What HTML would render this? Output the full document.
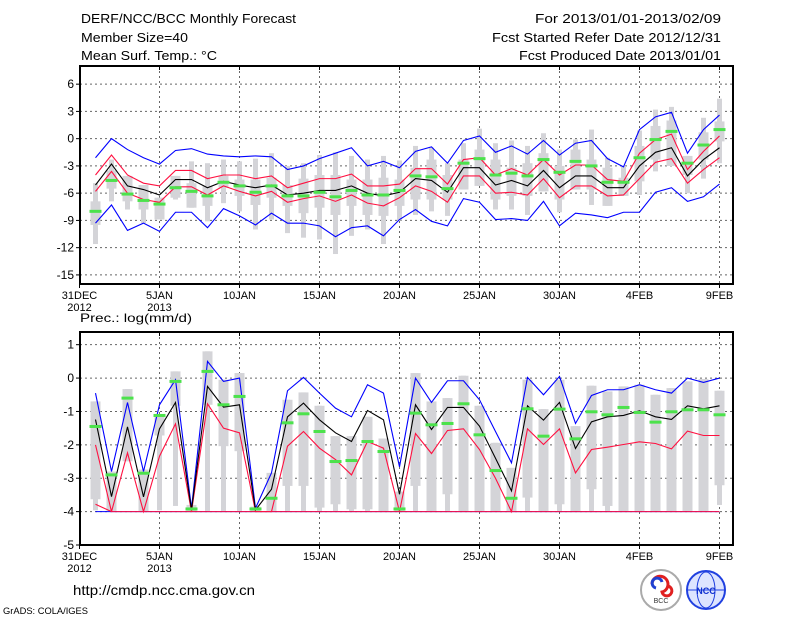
<!DOCTYPE html>
<html><head><meta charset="utf-8"><style>
html,body{margin:0;padding:0;background:#fff;}
svg{display:block;font-family:"Liberation Sans",sans-serif;}
</style></head><body>
<svg id="chart" width="800" height="618" viewBox="0 0 800 618" xmlns="http://www.w3.org/2000/svg">
<rect width="800" height="618" fill="#fff"/>
<g font-size="13" fill="#000">
<text x="81" y="23" textLength="215" lengthAdjust="spacingAndGlyphs">DERF/NCC/BCC Monthly Forecast</text>
<text x="81" y="42" textLength="107" lengthAdjust="spacingAndGlyphs">Member Size=40</text>
<text x="81" y="60" textLength="136" lengthAdjust="spacingAndGlyphs">Mean Surf. Temp.: °C</text>
<text x="721" y="23" text-anchor="end" textLength="186" lengthAdjust="spacingAndGlyphs">For 2013/01/01-2013/02/09</text>
<text x="721" y="42" text-anchor="end" textLength="229" lengthAdjust="spacingAndGlyphs">Fcst Started Refer Date 2012/12/31</text>
<text x="721" y="60" text-anchor="end" textLength="202" lengthAdjust="spacingAndGlyphs">Fcst Produced Date 2013/01/01</text>
</g>
<g id="top"></g>
<g id="bot"></g>
<text x="80" y="322" font-size="12" textLength="112" lengthAdjust="spacingAndGlyphs">Prec.: log(mm/d)</text>
<text x="73" y="595" font-size="14" textLength="182" lengthAdjust="spacingAndGlyphs">http://cmdp.ncc.cma.gov.cn</text>
<text x="3" y="614" font-size="9" textLength="85" lengthAdjust="spacingAndGlyphs">GrADS: COLA/IGES</text>
<g>
<circle cx="661" cy="590" r="20" fill="#fff" stroke="#aaa" stroke-width="2"/>
<path d="M652,584 a8,8 0 1 1 10,8 a5,5 0 1 0 6,-6" fill="none" stroke="#e02020" stroke-width="3"/>
<path d="M656,588 a5,5 0 1 1 6,-6" fill="none" stroke="#2040d0" stroke-width="3"/>
<text x="661" y="603" font-size="7" text-anchor="middle" fill="#333">BCC</text>
</g>
<g>
<circle cx="706" cy="590" r="19" fill="#dde4ff" stroke="#2040e0" stroke-width="2"/>
<ellipse cx="706" cy="590" rx="9" ry="18" fill="none" stroke="#2040e0"/>
<line x1="688" y1="590" x2="724" y2="590" stroke="#2040e0"/>
<text x="706" y="594" font-size="9" font-weight="bold" text-anchor="middle" fill="#1030d0">NCC</text>
</g>
</svg>
<script>
// ---- temperature data (days 1..40 = Jan 1 .. Feb 9) ----
const tBlueHi=[-2.1,0,-1.2,-2.1,-2.8,-1.3,-1.1,-1.7,-1.9,-2.0,-1.9,-2.0,-3.4,-3.0,-2.2,-1.6,-1.0,-3.0,-2.5,-3.2,-1.4,-0.9,-2.7,-0.2,0.3,-1.5,-0.8,-1.7,-0.2,-1.8,-0.5,-0.2,-2.2,-3.1,1.0,2.4,2.9,-1.6,1.0,2.6];
const tRedHi=[-4.0,-1.8,-4.0,-4.9,-5.2,-3.5,-3.5,-4.4,-4.0,-4.0,-4.4,-4.1,-5.4,-4.9,-4.4,-4.4,-3.9,-5.2,-5.2,-5.0,-3.3,-3.3,-5.0,-2.3,-2.1,-4.0,-3.3,-4.0,-2.3,-4.0,-2.9,-2.9,-4.5,-4.7,-1.6,-0.1,0.5,-3.4,-1.4,0.3];
const tMean=[-5.1,-2.8,-5.2,-5.6,-6.2,-4.5,-4.5,-5.4,-4.7,-5.1,-5.4,-5.1,-6.2,-6.0,-5.7,-5.7,-5.2,-6.0,-6.3,-5.9,-4.4,-4.6,-5.9,-3.2,-3.2,-5.1,-4.6,-5.2,-3.5,-5.4,-4.1,-4.1,-5.4,-5.4,-3.0,-1.5,-1.0,-4.1,-2.3,-1.0];
const tRedLo=[-5.8,-3.6,-6.0,-6.7,-7.0,-5.3,-5.3,-6.2,-5.2,-5.8,-6.3,-5.8,-7.0,-6.6,-6.3,-6.9,-6.2,-7.1,-7.4,-6.5,-5.2,-5.8,-7.0,-4.1,-4.1,-6.0,-5.9,-6.2,-4.4,-6.5,-5.2,-5.2,-6.3,-6.2,-4.4,-2.6,-2.2,-4.9,-3.4,-2.1];
const tBlueLo=[-9.3,-7.3,-10.1,-9.3,-10.2,-8.1,-8.1,-9.8,-7.7,-8.5,-9.5,-8.2,-9.3,-9.3,-9.6,-10.8,-9.8,-9.6,-10.7,-8.9,-7.8,-9.1,-9.6,-6.6,-7.0,-8.9,-8.8,-9.0,-6.9,-9.6,-8.2,-8.4,-8.7,-8.1,-8.1,-5.9,-5.4,-6.9,-6.4,-5.0];
const tObs=[-8.0,-4.6,-6.1,-6.8,-7.2,-5.4,-5.8,-6.3,-4.8,-5.2,-5.9,-5.2,-6.3,-6.3,-5.9,-6.4,-5.7,-6.2,-6.2,-5.7,-4.1,-4.2,-5.5,-2.7,-2.2,-4.0,-3.8,-4.1,-2.3,-3.7,-2.5,-3.0,-4.8,-4.8,-2.1,-0.1,0.8,-2.7,-0.7,1.0];
const tBoxHi=[-6.9,-3.5,-4.1,-5.1,-6.5,-4.1,-4.9,-5.2,-4.1,-4.5,-4.5,-4.3,-5.1,-4.4,-4.0,-4.0,-4.5,-4.5,-4.3,-4.5,-3.2,-2.3,-4.0,-2.3,-1.2,-2.3,-3.2,-2.7,-1.6,-3.0,-1.2,-2.3,-3.2,-4.3,-0.8,1.4,2.0,-1.9,0.7,1.9];
const tBoxLo=[-9.5,-5.5,-6.9,-7.8,-8.9,-6.5,-7.6,-7.4,-5.4,-6.3,-7.3,-6.5,-7.4,-8.2,-7.6,-8.4,-7.4,-8.4,-8.5,-7.4,-6.7,-6.7,-6.7,-5.6,-5.2,-6.7,-6.3,-6.3,-5.8,-6.7,-5.6,-5.6,-7.4,-6.3,-4.7,-2.3,-3.0,-4.0,-2.3,-0.3];
const tWhHi=[-4.9,-2.3,-4.1,-5.1,-6.5,-4.1,-2.5,-2.7,-2.3,-2.5,-2.2,-1.6,-3.0,-2.7,-1.8,-1.5,-1.9,-2.3,-1.9,-2.4,-0.8,-1.0,-2.7,-0.5,1.1,-0.5,-0.2,-0.8,0.6,-1.2,-0.1,1.0,-2.1,-3.0,0.9,3.2,3.5,-1.9,2.3,4.4];
const tWhLo=[-11.6,-6.9,-7.8,-9.3,-8.9,-6.7,-7.6,-9.1,-7.1,-8.0,-10.0,-8.9,-10.4,-10.9,-11.1,-12.7,-10.7,-10.0,-11.6,-9.0,-8.4,-8.0,-8.5,-5.6,-5.2,-7.8,-7.8,-8.4,-5.8,-8.1,-5.6,-7.3,-7.4,-6.3,-6.2,-3.6,-3.0,-6.0,-4.4,-2.7];
const tTicks=[6,3,0,-3,-6,-9,-12,-15];
// ---- precipitation data ----
const bBlueHi=[-0.45,-2.8,-0.73,-2.8,-0.8,-0.05,-3.9,0.5,-0.1,0,-3.9,-2.84,-0.38,0.02,-0.45,-0.9,-1.16,-0.2,-0.45,-2.66,0,-0.73,-0.08,-0.08,-0.65,-1.6,-2.54,0.02,-0.5,0.05,-1.36,-0.52,-0.35,-0.35,-0.2,-0.35,-0.45,0,-0.13,0];
const bMean=[-1.24,-3.55,-1.46,-3.56,-1.52,-0.73,-3.95,-0.25,-0.87,-0.8,-3.95,-3.33,-1.16,-0.75,-1.25,-1.64,-1.9,-0.97,-1.25,-3.48,-0.8,-1.54,-0.88,-0.88,-1.44,-2.4,-3.38,-0.83,-1.26,-0.73,-2.11,-1.31,-1.16,-1.12,-0.98,-1.16,-1.24,-0.83,-0.92,-0.83];
const bRedHi=[-2.0,-4,-2.24,-4,-2.34,-1.37,-4,-0.77,-1.5,-1.64,-4,-4,-2.04,-1.6,-2.1,-2.44,-2.9,-1.9,-2.1,-4,-1.66,-2.26,-1.57,-1.52,-2.14,-3.0,-4,-1.52,-1.99,-1.52,-2.84,-2.14,-2.07,-1.99,-1.91,-1.96,-2.12,-1.59,-1.72,-1.72];
const bRedLo=[-3.78,-4,-4,-4,-4,-4,-4,-4,-4,-4,-4,-4,-4,-4,-4,-4,-4,-4,-4,-4,-4,-4,-4,-4,-4,-4,-4,-4,-4,-4,-4,-4,-4,-4,-4,-4,-4,-4,-4,-4];
const bBlueLo=[-4,-4,-4,-4,-4,-4,-4,-4,-4,-4,-4,-4,-4,-4,-4,-4,-4,-4,-4,-4,-4,-4,-4,-4,-4,-4,-4,-4,-4,-4,-4,-4,-4,-4,-4,-4,-4,-4,-4,-4];
const bObs=[-1.45,-2.9,-0.6,-2.85,-1.12,-0.1,-3.92,0.2,-0.8,-0.55,-3.92,-3.6,-1.34,-1.07,-1.6,-2.5,-2.47,-1.9,-2.2,-3.92,-1.05,-1.4,-1.36,-0.77,-1.7,-2.77,-3.6,-0.92,-1.74,-0.93,-1.82,-1.01,-1.1,-0.88,-1.03,-1.32,-1.01,-0.95,-0.95,-1.1];
const bBoxHi=[-0.7,-2.8,-0.33,-2.74,-1.09,0.2,-3.8,0.8,-0.05,0.15,-3.85,-2.84,-0.65,-0.43,-0.83,-1.74,-1.74,-1.16,-1.81,-3.4,0.15,-0.7,-0.6,0.07,-0.83,-1.94,-2.69,-0.05,-0.93,-0.05,-1.44,-0.23,-0.4,-0.25,-0.2,-0.5,-0.3,-0.1,-0.03,-0.38];
const bBoxLo=[-3.63,-3.98,-2.49,-3.98,-1.72,-0.83,-3.98,-0.8,-2.04,-2.19,-3.98,-3.98,-3.23,-3.23,-3.88,-3.78,-3.93,-3.93,-3.98,-3.98,-3.23,-3.98,-3.48,-3.98,-3.98,-3.98,-3.98,-3.58,-3.98,-3.78,-3.98,-3.33,-3.83,-3.98,-3.98,-3.98,-3.98,-3.98,-3.98,-3.21];
const bWhLo=[-3.96,-3.98,-2.49,-3.98,-3.96,-3.83,-3.98,-3.98,-3.98,-3.98,-3.98,-3.98,-3.98,-3.98,-3.98,-3.98,-3.98,-3.98,-3.98,-3.98,-3.98,-3.98,-3.98,-3.98,-3.98,-3.98,-3.98,-3.98,-3.98,-3.98,-3.98,-3.98,-3.98,-3.98,-3.98,-3.98,-3.98,-3.98,-3.98,-3.8];
const bTicks=[1,0,-1,-2,-3,-4,-5];
const dateTicks=["31DEC","5JAN","10JAN","15JAN","20JAN","25JAN","30JAN","4FEB","9FEB"];
const yearTicks=["2012","2013"];

const NS="http://www.w3.org/2000/svg";
const X0=79.5, DX=16, XL=80, XR=733;
function xs(d){return X0+DX*d;}
function mk(tag,attrs,parent){const e=document.createElementNS(NS,tag);for(const k in attrs)e.setAttribute(k,attrs[k]);parent.appendChild(e);return e;}

function panel(g,name,top,bot,vTop,vBot,ticks,s){
  const ys=v=>top+(vTop-v)/(vTop-vBot)*(bot-top);
  // grid
  ticks.forEach(t=>{
    const l=mk('line',{x1:XL,x2:XR,y1:ys(t),y2:ys(t),stroke:'#666','stroke-dasharray':'2,3'},g);
    
    
    const tk=mk('line',{x1:XL-4,x2:XL,y1:ys(t),y2:ys(t),stroke:'#000'},g);
    
    
    const tx=mk('text',{x:XL-6,y:ys(t)+4,'font-size':12,'text-anchor':'end'},g);
    tx.textContent=String(t);
    
    
  });
  dateTicks.forEach((lab,i)=>{
    const x=xs(i*5);
    const l=mk('line',{x1:x,x2:x,y1:top,y2:bot,stroke:'#666','stroke-dasharray':'2,3'},g);
    
    
    const tk=mk('line',{x1:x,x2:x,y1:bot,y2:bot+4,stroke:'#000'},g);
    
    
    const tt=mk('line',{x1:x,x2:x,y1:top,y2:top+4,stroke:'#000'},g);
    
    
    const tx=mk('text',{x:x,y:bot+15,'font-size':11,'text-anchor':'middle'},g);
    tx.textContent=lab;
    
    
    if(i<yearTicks.length){
      const ty=mk('text',{x:x,y:bot+27,'font-size':11,'text-anchor':'middle'},g);
      ty.textContent=yearTicks[i];
      
      
    }
  });
  // boxes
  for(let i=0;i<s.boxHi.length;i++){
    const x=xs(i+1);
    const w=mk('rect',{x:x-2.5,y:ys(s.whHi[i]),width:5,height:Math.max(1,ys(s.whLo[i])-ys(s.whHi[i])),fill:'#d4d4d8'},g);
    
    
    const b=mk('rect',{x:x-5,y:ys(s.boxHi[i]),width:10,height:Math.max(1,ys(s.boxLo[i])-ys(s.boxHi[i])),fill:'#d4d4d8'},g);
    
    
  }
  // lines
  s.lines.forEach(([arr,col,nm])=>{
    const p=mk('polyline',{points:arr.map((v,i)=>xs(i+1)+','+ys(v)).join(' '),fill:'none',stroke:col,'stroke-width':1.1},g);
    
    
  });
  // obs markers
  s.obs.forEach((v,i)=>{
    const r=mk('rect',{x:xs(i+1)-6,y:ys(v)-1.5,width:12,height:3,fill:'#4ce24c'},g);
    
    
  });
  const f=mk('rect',{x:XL,y:top,width:XR-XL,height:bot-top,fill:'none',stroke:'#000','stroke-width':2},g);
  
  
}
panel(document.getElementById('top'),'temperature',66,284,8,-16,tTicks,{
  boxHi:tBoxHi,boxLo:tBoxLo,whHi:tWhHi,whLo:tWhLo,obs:tObs,
  lines:[[tBlueHi,'#0000ff','max-line'],[tBlueLo,'#0000ff','min-line'],[tRedHi,'#ff1040','upper-line'],[tRedLo,'#ff1040','lower-line'],[tMean,'#000','mean-line']]});
panel(document.getElementById('bot'),'precipitation',332,545,1.38,-5,bTicks,{
  boxHi:bBoxHi,boxLo:bBoxLo,whHi:bBoxHi,whLo:bWhLo,obs:bObs,
  lines:[[bBlueHi,'#0000ff','max-line'],[bBlueLo,'#0000ff','min-line'],[bRedLo,'#ff1040','lower-line'],[bRedHi,'#ff1040','upper-line'],[bMean,'#000','mean-line']]});
</script>
</body></html>
